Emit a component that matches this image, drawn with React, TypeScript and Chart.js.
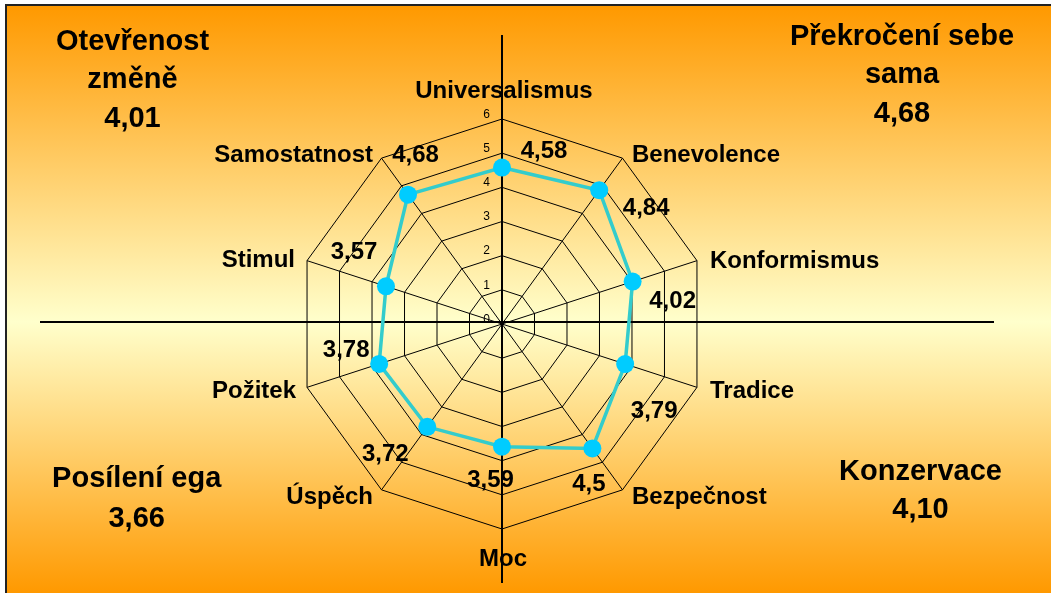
import React, { useEffect, useRef } from "react";
import { Chart, registerables } from "chart.js";

Chart.register(...registerables);

// ---------- data ----------
const categories = [
  "Universalismus",
  "Benevolence",
  "Konformismus",
  "Tradice",
  "Bezpečnost",
  "Moc",
  "Úspěch",
  "Požitek",
  "Stimul",
  "Samostatnost",
];
const values = [4.58, 4.84, 4.02, 3.79, 4.5, 3.59, 3.72, 3.78, 3.57, 4.68];
const valueLabels = ["4,58", "4,84", "4,02", "3,79", "4,5", "3,59", "3,72", "3,78", "3,57", "4,68"];
const tickValues = [0, 1, 2, 3, 4, 5, 6];
const quadrantTitles = [["Otevřenost", "změně"], ["Překročení sebe", "sama"], ["Posílení ega"], ["Konzervace"]];
const quadrantValues = ["4,01", "4,68", "3,66", "4,10"];

// ---------- styling / layout ----------
const W = 1051;
const H = 593;
const FONT = '"Liberation Sans", Arial, sans-serif';
// value label offsets from the point (center x, baseline)
const valueLabelOffsets = [
  [42, -9.5], [47, 25], [40, 26], [29, 53.5], [-3.5, 42.5],
  [-11.5, 40], [-42, 34], [-33, -6.5], [-32, -27], [7.5, -33],
];
// category label offsets from outer vertex (x, baseline) + alignment
const catLabelOffsets = [
  [2, -21.5, "center"], [9.5, 4, "left"], [13, 7, "left"], [13, 11, "left"], [9.5, 14, "left"],
  [1, 37, "center"], [-8.5, 14, "right"], [-11, 11, "right"], [-12, 6.5, "right"], [-8.5, 4, "right"],
];
// quadrant text: center x, baselines of lines
const quadrantLayout = [
  { x: 132.5, ys: [49.7, 88.4, 127] },
  { x: 902, ys: [45, 83.4, 121.7] },
  { x: 136.7, ys: [486.7, 526.7] },
  { x: 920.5, ys: [480, 518] },
];

const overlayPlugin = {
  id: "overlay",
  beforeDraw(chart: any) {
    const ctx = chart.ctx;
    ctx.save();
    ctx.fillStyle = "#ffffff";
    ctx.fillRect(0, 0, W, H);
    const g = ctx.createLinearGradient(0, 6, 0, H);
    g.addColorStop(0, "#FF9900");
    g.addColorStop(0.538, "#FFFFCC");
    g.addColorStop(1, "#FF9900");
    ctx.fillStyle = g;
    ctx.fillRect(7, 6, W - 7, H - 6);
    ctx.fillStyle = "#222";
    ctx.fillRect(5, 4, W - 5, 2);
    ctx.fillRect(5, 4, 2, H - 4);
    ctx.restore();
  },
  beforeDatasetsDraw(chart: any) {
    const ctx = chart.ctx;
    ctx.save();
    ctx.strokeStyle = "#000";
    ctx.lineWidth = 2;
    ctx.beginPath();
    ctx.moveTo(40, 322);
    ctx.lineTo(994, 322);
    ctx.moveTo(502, 35);
    ctx.lineTo(502, 583);
    ctx.stroke();
    ctx.restore();
  },
  afterDraw(chart: any) {
    const ctx = chart.ctx;
    const r = chart.scales.r;
    ctx.save();
    ctx.fillStyle = "#000";
    // tick labels
    ctx.font = `12px ${FONT}`;
    ctx.textAlign = "right";
    ctx.textBaseline = "middle";
    tickValues.forEach((t) => {
      const d = r.getDistanceFromCenterForValue(t);
      ctx.fillText(String(t), r.xCenter - 12, r.yCenter - d - 4.5);
    });
    // category labels
    ctx.font = `bold 24px ${FONT}`;
    ctx.textBaseline = "alphabetic";
    categories.forEach((c, i) => {
      const p = r.getPointPosition(i, r.drawingArea);
      const o = catLabelOffsets[i];
      ctx.textAlign = o[2] as CanvasTextAlign;
      ctx.fillText(c, p.x + (o[0] as number), p.y + (o[1] as number));
    });
    // value labels
    ctx.textAlign = "center";
    valueLabels.forEach((v, i) => {
      const p = r.getPointPositionForValue(i, values[i]);
      const o = valueLabelOffsets[i];
      ctx.fillText(v, p.x + o[0], p.y + o[1]);
    });
    // quadrant texts
    ctx.font = `bold 29px ${FONT}`;
    quadrantTitles.forEach((lines, q) => {
      const L = quadrantLayout[q];
      const all = [...lines, quadrantValues[q]];
      all.forEach((t, k) => ctx.fillText(t, L.x, L.ys[k]));
    });
    ctx.restore();
  },
};

export default function App() {
  const ref = useRef<HTMLCanvasElement | null>(null);
  useEffect(() => {
    if (!ref.current) return;
    const chart = new Chart(ref.current, {
      type: "radar",
      data: {
        labels: categories,
        datasets: [
          {
            data: values,
            borderColor: "#33CCCC",
            borderWidth: 3.5,
            pointBackgroundColor: "#00CCFF",
            pointBorderColor: "#00CCFF",
            pointBorderWidth: 0,
            pointRadius: 9,
            fill: false,
            tension: 0,
          },
        ],
      },
      options: {
        animation: false,
        responsive: false,
        devicePixelRatio: 1,
        layout: { padding: { left: 297, right: 344, top: 119, bottom: 64 } },
        plugins: { legend: { display: false }, tooltip: { enabled: false } },
        scales: {
          r: {
            min: 0,
            max: 6,
            ticks: { stepSize: 1, display: false },
            grid: { color: "#000", lineWidth: 1 },
            angleLines: { color: "#000", lineWidth: 1 },
            pointLabels: { display: false },
          },
        },
      },
      plugins: [overlayPlugin],
    } as any);
    return () => chart.destroy();
  }, []);
  return (
    <div style={{ position: "fixed", left: 0, top: 0, width: W, height: H }}>
      <canvas ref={ref} width={W} height={H} style={{ display: "block", width: W, height: H }} />
    </div>
  );
}
